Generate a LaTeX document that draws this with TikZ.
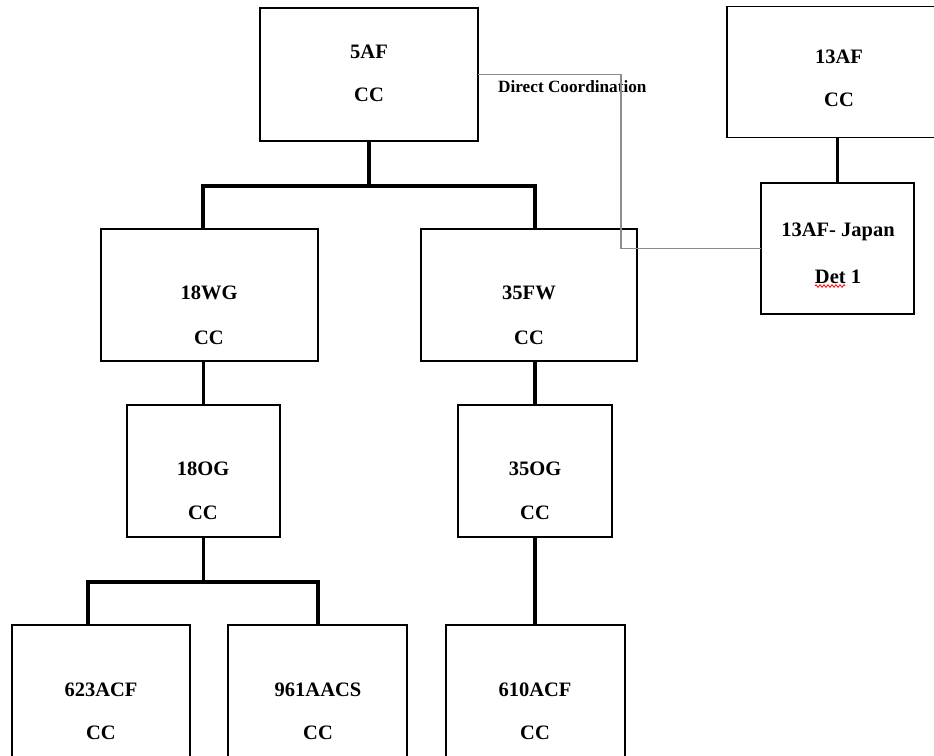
\documentclass[tikz,border=0pt]{standalone}
\usepackage{fontspec}
\setmainfont{Liberation Serif}
\usetikzlibrary{decorations.pathmorphing}
\tikzset{
  box/.style={draw=black, line width=1.8pt, fill=white, inner sep=0pt, outer sep=0pt},
  lbl/.style={inner sep=0pt, font=\fontsize{20.5}{24}\selectfont\bfseries},
  conn/.style={draw=black, line width=3.6pt},
  coord/.style={draw=black!45, line width=1.5pt},
  note/.style={inner sep=0pt, font=\fontsize{17.2}{20}\selectfont\bfseries, text=black}
}
\begin{document}
\begin{tikzpicture}[x=1pt,y=-1pt]
\useasboundingbox (0,0) rectangle (934,755);
\clip (0,0) rectangle (934,755);
% boxes
\node[box, minimum width=218pt, minimum height=133pt] (b5af)   at (369,74.5) {};
\node[box, minimum width=226pt, minimum height=131pt] (b13af)  at (840,72) {};
\node[box, minimum width=153pt, minimum height=131pt] (b13afj) at (837.5,248.5) {};
\node[box, minimum width=217pt, minimum height=132pt] (b18wg)  at (209.5,295) {};
\node[box, minimum width=216pt, minimum height=132pt] (b35fw)  at (529,295) {};
\node[box, minimum width=153pt, minimum height=132pt] (b18og)  at (203.5,471) {};
\node[box, minimum width=154pt, minimum height=132pt] (b35og)  at (535,471) {};
\node[box, minimum width=178pt, minimum height=132pt] (b623)   at (101,691) {};
\node[box, minimum width=179pt, minimum height=132pt] (b961)   at (317.5,691) {};
\node[box, minimum width=179pt, minimum height=132pt] (b610)   at (535.5,691) {};
% texts
\node[lbl] (t5afa) at (369,52) {5AF};
\node[lbl] (t5afb) at (369,95) {CC};
\node[lbl] (t13afa) at (839,57) {13AF};
\node[lbl] (t13afb) at (839,100) {CC};
\node[lbl] (t13afja) at (838,232) {13AF- Japan};
\node[lbl] (t13afjb) at (838,277) {Det 1};
\node[lbl] (t18wga) at (209,293) {18WG};
\node[lbl] (t18wgb) at (209,338) {CC};
\node[lbl] (t35fwa) at (529,293) {35FW};
\node[lbl] (t35fwb) at (529,338) {CC};
\node[lbl] (t18oga) at (203,469) {18OG};
\node[lbl] (t18ogb) at (203,513) {CC};
\node[lbl] (t35oga) at (535,469) {35OG};
\node[lbl] (t35ogb) at (535,513) {CC};
\node[lbl] (t623a) at (101,690) {623ACF};
\node[lbl] (t623b) at (101,733) {CC};
\node[lbl] (t961a) at (318,690) {961AACS};
\node[lbl] (t961b) at (318,733) {CC};
\node[lbl] (t610a) at (535,690) {610ACF};
\node[lbl] (t610b) at (535,733) {CC};
% spell-check squiggle under Det
\coordinate (sq1) at (815,286);
\coordinate (sq2) at (845,286);
\draw[red, line width=0.8pt, decorate, decoration={zigzag, amplitude=1.3pt, segment length=4pt}] (sq1) -- (sq2);
% connectors
\coordinate (bl) at (203,186);
\coordinate (br) at (535,186);
\draw[conn] (b5af.south) -- (b5af.south |- bl);
\draw[conn] (b18wg.north -| bl) -- (bl) -- (br) -- (b35fw.north -| br);
\draw[conn] (b18og.north) -- (b18og.north |- b18wg.south);
\draw[conn] (b35og.north) -- (b35og.north |- b35fw.south);
\coordinate (cl) at (88,582);
\coordinate (cr) at (318,582);
\draw[conn] (b18og.south) -- (b18og.south |- cl);
\draw[conn] (b623.north -| cl) -- (cl) -- (cr) -- (b961.north -| cr);
\draw[conn] (b35og.south) -- (b610.north -| b35og.south);
\draw[conn] (b13afj.north) -- (b13afj.north |- b13af.south);
% direct coordination
\node[note, anchor=west] (dcl) at (498,87) {Direct Coordination};
\coordinate (dc1) at (621,74.5);
\coordinate (dc2) at (621,248.5);
\draw[coord] (b5af.east) -- (dc1) -- (dc2) -- (b13afj.west);
\end{tikzpicture}
\end{document}
